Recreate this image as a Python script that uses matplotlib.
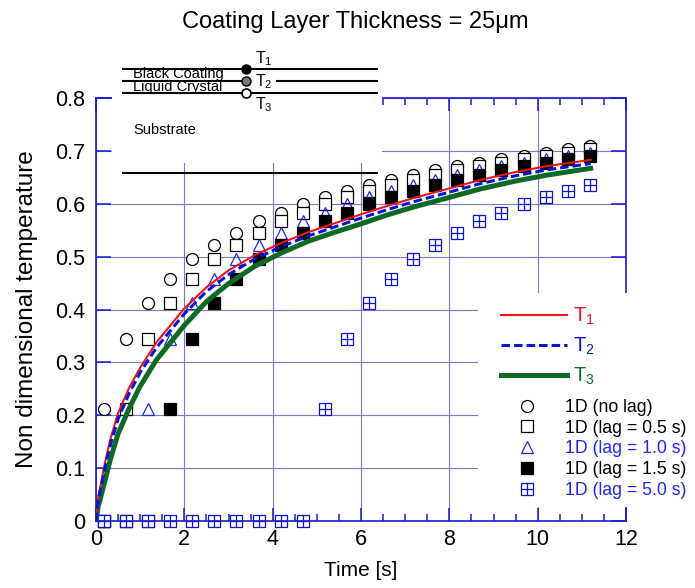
import matplotlib
matplotlib.use("Agg")
import matplotlib.pyplot as plt
from matplotlib.patches import Rectangle
from matplotlib.ticker import MultipleLocator, FormatStrFormatter

plt.rcParams["font.family"] = ["Liberation Sans", "DejaVu Sans"]
plt.rcParams["mathtext.default"] = "regular"

# ---------------------------------------------------------------
# model curves: coating surface (T1), interface (T2), substrate (T3)
# ---------------------------------------------------------------
t_model = [0, 0.05, 0.1, 0.2, 0.32, 0.5, 0.75, 1.0, 1.37, 2.0, 2.5, 3.0,
           3.6, 4.2, 4.8, 5.4, 6.0, 6.6, 7.2, 8.0, 8.7, 9.5, 10.2, 11.2]
theta_t1 = [0, 0.045, 0.065, 0.109, 0.153, 0.204, 0.252, 0.290, 0.338,
            0.402, 0.442, 0.474, 0.503, 0.526, 0.546, 0.563, 0.580, 0.596,
            0.611, 0.629, 0.645, 0.660, 0.671, 0.683]
theta_t2 = [0, 0.040, 0.059, 0.099, 0.142, 0.193, 0.241, 0.281, 0.328,
            0.392, 0.434, 0.466, 0.496, 0.519, 0.539, 0.556, 0.573, 0.589,
            0.604, 0.622, 0.638, 0.653, 0.664, 0.676]
theta_t3 = [0, 0.028, 0.043, 0.075, 0.115, 0.165, 0.213, 0.255, 0.305,
            0.370, 0.415, 0.449, 0.482, 0.507, 0.529, 0.546, 0.562, 0.579,
            0.594, 0.612, 0.628, 0.643, 0.654, 0.667]

# ---------------------------------------------------------------
# 1D solution sampled every 0.5 s, with and without sensor lag
# ---------------------------------------------------------------
t_1d = [0.18, 0.68, 1.18, 1.68, 2.18, 2.68, 3.18, 3.68, 4.18, 4.68, 5.18,
        5.68, 6.18, 6.68, 7.18, 7.68, 8.18, 8.68, 9.18, 9.68, 10.18,
        10.68, 11.18]
theta_nolag = [0.212, 0.345, 0.412, 0.457, 0.495, 0.522, 0.545, 0.567,
               0.582, 0.599, 0.613, 0.624, 0.635, 0.645, 0.655, 0.663,
               0.671, 0.678, 0.684, 0.691, 0.696, 0.703, 0.709]
theta_lag05 = [0, 0.212, 0.345, 0.412, 0.457, 0.495, 0.522, 0.545, 0.567,
               0.582, 0.599, 0.613, 0.624, 0.635, 0.645, 0.655, 0.663,
               0.671, 0.678, 0.684, 0.691, 0.696, 0.703]
theta_lag10 = [0, 0, 0.212, 0.345, 0.412, 0.457, 0.495, 0.522, 0.545,
               0.567, 0.582, 0.599, 0.613, 0.624, 0.635, 0.645, 0.655,
               0.663, 0.671, 0.678, 0.684, 0.691, 0.696]
theta_lag15 = [0, 0, 0, 0.212, 0.345, 0.412, 0.457, 0.495, 0.522, 0.545,
               0.567, 0.582, 0.599, 0.613, 0.624, 0.635, 0.645, 0.655,
               0.663, 0.671, 0.678, 0.684, 0.691]
theta_lag50 = [0, 0, 0, 0, 0, 0, 0, 0, 0, 0, 0.212, 0.345, 0.412, 0.457,
               0.495, 0.522, 0.545, 0.567, 0.582, 0.599, 0.613, 0.624, 0.635]

curve_labels = ["$T_1$", "$T_2$", "$T_3$"]
point_labels = ["1D (no lag)", "1D (lag = 0.5 s)", "1D (lag = 1.0 s)",
                "1D (lag = 1.5 s)", "1D (lag = 5.0 s)"]

RED = "#e8161b"
BLUE = "#0a14d2"
GREEN = "#0d6a25"
AXIS_BLUE = "#1a1ad0"
GRID = "#7a7ac6"
MARK_BLUE = "#1e28f0"

fig = plt.figure(figsize=(6.95, 5.88), dpi=100)
ax = fig.add_axes([96 / 695, 67 / 588, 530 / 695, 423 / 588])

# data points
ms = 8.6
common = dict(linestyle="none", clip_on=False, markeredgewidth=0.9)
h_circ = ax.plot(t_1d, theta_nolag, marker="o", ms=ms, mfc="white",
                 mec="black", **common)[0]
h_sq = ax.plot(t_1d, theta_lag05, marker="s", ms=ms, mfc="white",
               mec="black", **common)[0]
h_tri = ax.plot(t_1d, theta_lag10, marker="^", ms=ms, mfc="none",
                mec=MARK_BLUE, **common)[0]
h_fill = ax.plot(t_1d, theta_lag15, marker="s", ms=ms, mfc="black",
                 mec="black", **common)[0]
h_box = ax.plot(t_1d, theta_lag50, marker="s", ms=ms, mfc="white",
                mec=BLUE, **common)[0]
h_plus = ax.plot(t_1d, theta_lag50, marker="+", ms=ms, mec=BLUE,
                 **common)[0]

# model curves on top
l1, = ax.plot(t_model, theta_t1, color=RED, lw=1.5, zorder=4)
l2, = ax.plot(t_model, theta_t2, color=BLUE, lw=2.2, zorder=4,
              dashes=(2.8, 1.3))
l3, = ax.plot(t_model, theta_t3, color=GREEN, lw=3.6, zorder=3.9)

ax.set_xlim(0, 12)
ax.set_ylim(0, 0.8)
ax.xaxis.set_major_locator(MultipleLocator(2))
ax.xaxis.set_minor_locator(MultipleLocator(0.5))
ax.yaxis.set_major_locator(MultipleLocator(0.1))
ax.xaxis.set_major_formatter(FormatStrFormatter("%g"))
ax.yaxis.set_major_formatter(FormatStrFormatter("%g"))

ax.grid(True, which="major", color=GRID, lw=0.8)
ax.set_axisbelow(True)
for s in ax.spines.values():
    s.set_color(AXIS_BLUE)
    s.set_linewidth(1.2)
ax.tick_params(which="both", direction="in", top=True, right=True,
               color=AXIS_BLUE, width=1.1, labelsize=15.5)
ax.tick_params(axis="x", which="major", length=9.5, pad=6)
ax.tick_params(axis="x", which="minor", length=5)
ax.tick_params(axis="y", which="major", length=11, pad=8)

ax.set_xlabel("Time [s]", fontsize=15, labelpad=8)
ax.set_ylabel("Non dimensional temperature", fontsize=17.5, labelpad=12)

# white panel behind the legends
ax.add_patch(Rectangle((0.721, 0.033), 0.3, 0.506, transform=ax.transAxes,
                       facecolor="white", edgecolor="none", zorder=2.6,
                       clip_on=False))

leg1 = ax.legend([l1, l2, l3], curve_labels, loc="upper left",
                 bbox_to_anchor=(0.745, 0.532), frameon=False, borderpad=0,
                 fontsize=14.5, handlelength=3.3, handletextpad=0.3,
                 labelspacing=0.42, labelcolor=[RED, BLUE, GREEN])
ax.add_artist(leg1)
ax.legend([h_circ, h_sq, h_tri, h_fill, (h_box, h_plus)], point_labels,
          loc="upper left", bbox_to_anchor=(0.779, 0.310), frameon=False,
          borderpad=0, fontsize=12.7, handlelength=1.0, handletextpad=1.7,
          labelspacing=0.22,
          labelcolor=["black", "black", MARK_BLUE, "black", MARK_BLUE])

# layer schematic above the plot
ax_d = fig.add_axes([112 / 695, 1 - 163 / 588, 270 / 695, 113 / 588])
ax_d.set_xlim(112, 382)
ax_d.set_ylim(163, 50)
ax_d.set_xticks([])
ax_d.set_yticks([])
for s in ax_d.spines.values():
    s.set_visible(False)

ax_d.plot([123, 377], [69, 69], color="black", lw=1.5)
ax_d.plot([123, 247], [81, 81], color="black", lw=1.5)
ax_d.plot([277, 377], [81, 81], color="black", lw=1.5)
ax_d.plot([123, 377], [93, 93], color="black", lw=1.5)
ax_d.plot([123, 377], [173, 173], color="black", lw=1.5, clip_on=False)
ax_d.plot(245.7, 69, "o", ms=6.5, mfc="black", mec="black")
ax_d.plot(245.7, 81, "o", ms=6.5, mfc="#7a7a7a", mec="black")
ax_d.plot(245.7, 93, "o", ms=6.5, mfc="white", mec="black", mew=1.2)
ax_d.text(255, 59, "$T_1$", fontsize=11.5, va="center")
ax_d.text(255, 82, "$T_2$", fontsize=11.5, va="center")
ax_d.text(255, 105, "$T_3$", fontsize=11.5, va="center")
ax_d.text(133, 74, "Black Coating", fontsize=10.5, va="center")
ax_d.text(133, 87, "Liquid Crystal", fontsize=10.5, va="center")
ax_d.text(133, 130, "Substrate", fontsize=10.5, va="center")

fig.text(355 / 695, 1 - 22 / 588, "Coating Layer Thickness = 25μm",
         ha="center", va="center", fontsize=17)

fig.savefig("out.png", dpi=100)
